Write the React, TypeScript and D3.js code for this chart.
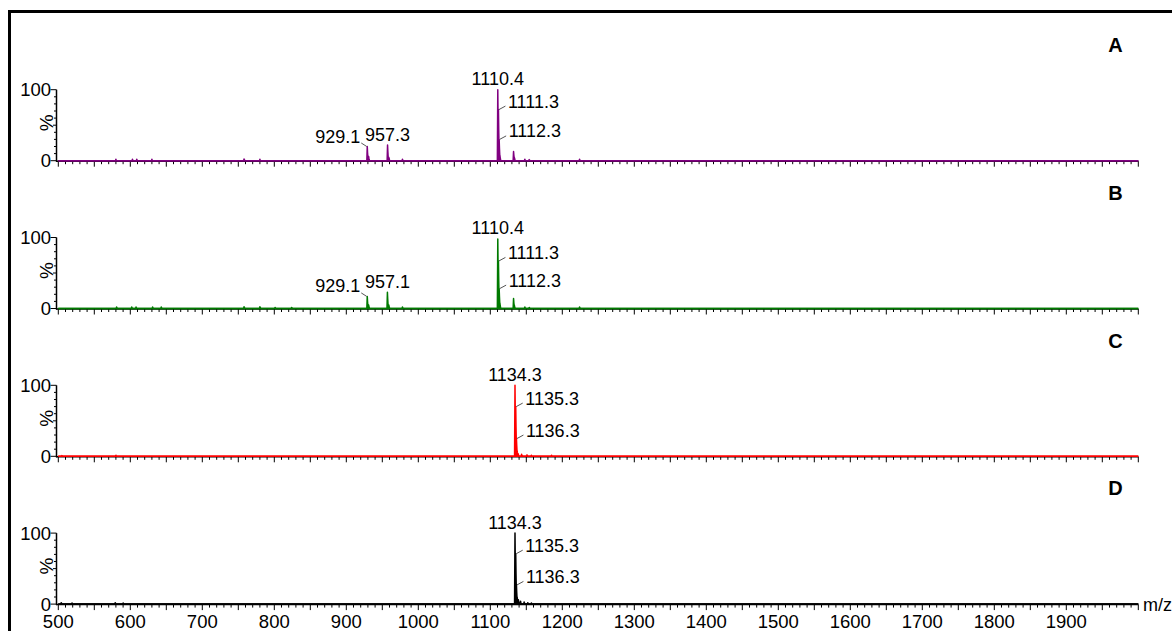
import React from "react";
import * as d3 from "d3";

// ---- data ----
const panelNames = ["A", "B", "C", "D"];
const panelColors = ["#800080", "#007a00", "#ff0000", "#000000"];

// peaks: [m/z, relative intensity %]
const peaksA: [number, number][] = [
  [580, 2], [603, 2], [609, 2], [630, 2], [758, 2.5], [780, 2],
  [929.1, 20], [931, 6], [957.3, 22], [959, 5], [978, 2],
  [1110.4, 100], [1111.3, 72], [1112.3, 30], [1113.3, 8],
  [1132.3, 13], [1133.3, 5], [1148, 2], [1154, 1.5], [1224, 2],
];
const peaksB: [number, number][] = [
  [581, 2], [602, 2], [608, 2], [631, 2], [643, 2], [758, 2.5], [780, 2.5], [801, 1.5], [824, 1.5],
  [929.1, 17], [931, 5], [957.1, 23], [959, 5], [978, 2],
  [1110.4, 98], [1111.3, 67], [1112.3, 28], [1113.3, 8],
  [1132.3, 14], [1133.3, 5], [1148, 2], [1154, 1.5], [1224, 2],
];
const peaksC: [number, number][] = [
  [505, 1], [580, 1.5],
  [1134.3, 100], [1135.3, 70], [1136.3, 25], [1137.3, 8], [1138.5, 4],
  [1143.5, 3], [1151, 2], [1157, 1.5], [1185, 1.5],
];
const peaksD: [number, number][] = [
  [504, 2], [519, 1.5], [579, 2], [590, 1.5],
  [1134.3, 100], [1135.3, 71], [1136.3, 27], [1137.3, 10], [1139, 6],
  [1142, 4], [1147, 3], [1152, 2], [1157, 1.5],
];
const panelPeaks = [peaksA, peaksB, peaksC, peaksD];

// labels: [m/z, text, intensity, placement]
type Lab = [number, string, number, "top" | "right" | "left"];
const labelsA: Lab[] = [
  [929.1, "929.1", 20, "left"], [957.3, "957.3", 22, "top"],
  [1110.4, "1110.4", 100, "top"], [1111.3, "1111.3", 72, "right"], [1112.3, "1112.3", 30, "right"],
];
const labelsB: Lab[] = [
  [929.1, "929.1", 17, "left"], [957.1, "957.1", 23, "top"],
  [1110.4, "1110.4", 98, "top"], [1111.3, "1111.3", 67, "right"], [1112.3, "1112.3", 28, "right"],
];
const labelsC: Lab[] = [
  [1134.3, "1134.3", 100, "top"], [1135.3, "1135.3", 70, "right"], [1136.3, "1136.3", 25, "right"],
];
const labelsD: Lab[] = [
  [1134.3, "1134.3", 100, "top"], [1135.3, "1135.3", 71, "right"], [1136.3, "1136.3", 27, "right"],
];
const panelLabels = [labelsA, labelsB, labelsC, labelsD];

const xTickLabels = [500, 600, 700, 800, 900, 1000, 1100, 1200, 1300, 1400, 1500, 1600, 1700, 1800, 1900];
const yTickLabels = [0, 100];

const FONT = "'Liberation Sans', Arial, sans-serif";

export default function App() {
  const x = d3.scaleLinear().domain([500, 2000]).range([58.3, 1138.3]);
  const baseline0 = 160.7;
  const step = 147.8;
  const minorX = d3.range(500, 2001, 10);

  return (
    <svg
      width={1172}
      height={631}
      style={{ position: "absolute", left: 0, top: 0, background: "#fff" }}
      fontFamily={FONT}
    >
      <rect x={0} y={0} width={1172} height={631} fill="#fff" />
      <rect x={9.5} y={11.5} width={1200} height={700} fill="none" stroke="#000" strokeWidth={3} />
      {panelNames.map((name, i) => {
        const base = baseline0 + i * step;
        const y = d3.scaleLinear().domain([0, 100]).range([base, base - 71]);
        const pts: [number, number][] = [[500, 0]];
        const sorted = [...panelPeaks[i]].sort((a, b) => a[0] - b[0]);
        sorted.forEach(([mz, h]) => {
          pts.push([mz - 0.6, 0], [mz, h], [mz + 0.4, h * 0.6], [mz + 1.2, 0]);
        });
        pts.push([2000, 0]);
        const line = d3.line<[number, number]>().x((d) => x(d[0])).y((d) => y(d[1]));
        const color = panelColors[i];
        return (
          <g key={name}>
            {/* x axis */}
            <line x1={56} x2={1138.3} y1={base + 0.5} y2={base + 0.5} stroke="#000" strokeWidth={1.5} />
            {minorX.map((v) => (
              <line
                key={v}
                x1={x(v)}
                x2={x(v)}
                y1={base + 0.5}
                y2={base + (v % 50 === 0 ? 6 : 3.5)}
                stroke="#000"
                strokeWidth={1}
              />
            ))}
            {/* y axis */}
            <line x1={56.5} x2={56.5} y1={y(100)} y2={base + 1} stroke="#000" strokeWidth={1.5} />
            {d3.range(0, 101, 10).map((v) => (
              <line
                key={v}
                x1={v % 100 === 0 ? 50.5 : v === 50 ? 53 : 54}
                x2={56.5}
                y1={y(v)}
                y2={y(v)}
                stroke="#000"
                strokeWidth={1}
              />
            ))}
            {yTickLabels.map((v) => (
              <text key={v} x={51} y={y(v) + 6.5} textAnchor="end" fontSize={18.5} fill="#000">
                {v}
              </text>
            ))}
            <text
              transform={`translate(${52.5}, ${base - 38}) rotate(-90)`}
              textAnchor="middle"
              fontSize={19}
              fill="#000"
            >
              %
            </text>
            {/* spectrum */}
            <path d={line(pts) || ""} fill="none" stroke={color} strokeWidth={1.5} strokeLinejoin="round" />
            <path d={`M${x(500)},${base}H${x(2000)}`} stroke={color} strokeWidth={1.5} />
            {/* peak labels */}
            {panelLabels[i].map(([mz, text, h, pos]) => {
              const px = x(mz);
              const py = y(h);
              if (pos === "top") {
                return (
                  <text key={text} x={px} y={py - 4.5} textAnchor="middle" fontSize={18} fill="#000">
                    {text}
                  </text>
                );
              }
              if (pos === "right") {
                return (
                  <g key={text}>
                    <line x1={px + 0.5} y1={py} x2={px + 7} y2={py - 3.5} stroke="#555" strokeWidth={1} />
                    <text x={px + 9.5} y={py - 2} textAnchor="start" fontSize={18} fill="#000">
                      {text}
                    </text>
                  </g>
                );
              }
              return (
                <g key={text}>
                  <line x1={px - 0.5} y1={py} x2={px - 6} y2={py - 3.5} stroke="#555" strokeWidth={1} />
                  <text x={px - 7} y={py - 4} textAnchor="end" fontSize={18} fill="#000">
                    {text}
                  </text>
                </g>
              );
            })}
            <text x={1115.5} y={base - 108.7} textAnchor="middle" fontSize={20} fontWeight="bold" fill="#000">
              {name}
            </text>
          </g>
        );
      })}
      {xTickLabels.map((v) => (
        <text key={v} x={x(v)} y={628} textAnchor="middle" fontSize={18.5} fill="#000">
          {v}
        </text>
      ))}
      <text x={1143} y={611} fontSize={18} fill="#000">
        m/z
      </text>
    </svg>
  );
}
